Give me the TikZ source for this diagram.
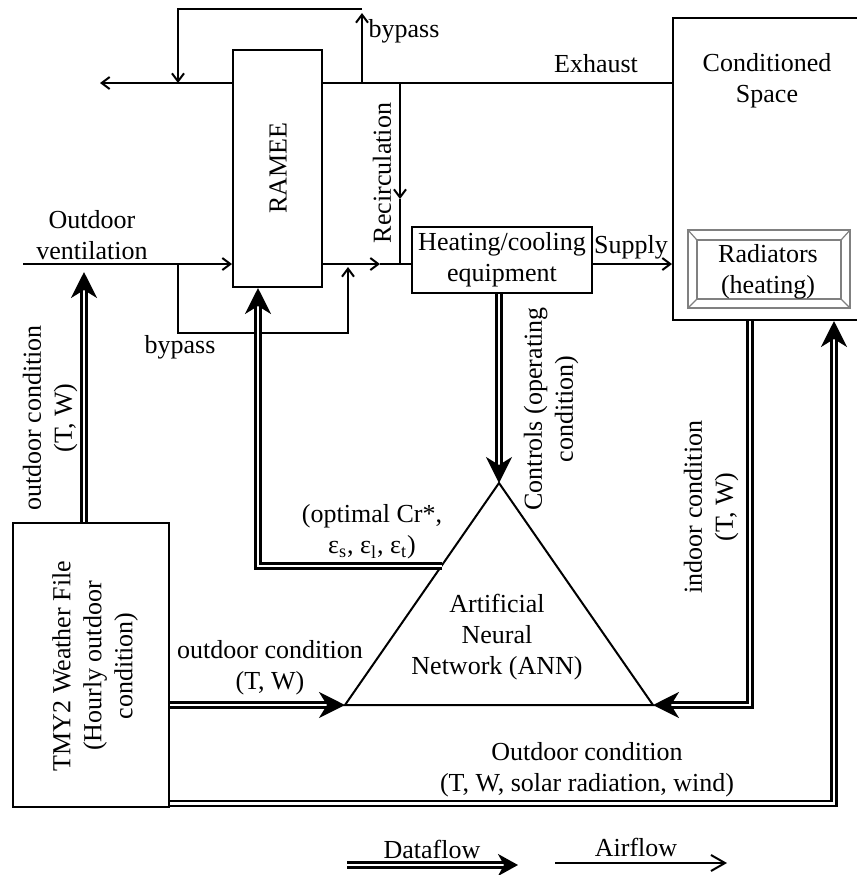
\documentclass[tikz,border=0pt]{standalone}
\usepackage{fontspec}
\setmainfont{Liberation Serif}
\usepackage{graphicx}
\usetikzlibrary{arrows.meta,calc}
\begin{document}
\begin{tikzpicture}[x=0.5pt,y=-0.5pt,
  every node/.style={font=\fontsize{13}{15.5}\selectfont, inner sep=0pt},
  box/.style={draw, line width=1pt, inner sep=0pt},
  air/.style={line width=1pt},
  atip/.style={-{Straight Barb[length=4pt,width=6pt]}},
  dline/.style={double, line width=1.1pt, double distance=1.4pt, line join=miter},
  dtip/.style={-{Stealth[length=13pt,width=13pt,inset=4pt]}},
  lbl/.style={align=center},
  vlbl/.style={align=center, rotate=90},
  bevel/.style={draw=gray, line width=0.6pt}
]
\useasboundingbox (0,0) rectangle (857,875);
\clip (0,0) rectangle (857,875);

% ---------- blocks ----------
\node[box, minimum width=44.5pt, minimum height=118.5pt] (ramee) at (277.5,168.5) {};
\node[rotate=90] (rameeT) at (278,168) {RAMEE};
\node[box, minimum width=90pt, minimum height=33pt, align=center] (heat) at (502,260) {Heating/cooling\\equipment};
\node[box, minimum width=98.5pt, minimum height=151pt] (cond) at (771.5,169) {};
\node[lbl] (condT) at (767,81) {Conditioned\\Space};
\node[bevel, minimum width=81pt, minimum height=39pt] (rad) at (769,269) {};
\node[bevel, minimum width=72pt, minimum height=29.5pt] (radin) at (769,269.5) {};
\draw[bevel] (rad.north west) -- (radin.north west);
\draw[bevel] (rad.north east) -- (radin.north east);
\draw[bevel] (rad.south west) -- (radin.south west);
\draw[bevel] (rad.south east) -- (radin.south east);
\node[lbl] (radT) at (768,272) {Radiators\\(heating)};
\node[box, minimum width=78pt, minimum height=142pt] (tmy) at (91,665) {};
\node[vlbl] (tmyT) at (95,666) {TMY2 Weather File\\(Hourly outdoor\\condition)};

% ANN triangle
\coordinate (apex) at (499,483);
\coordinate (annBL) at (345,705);
\coordinate (annBR) at (653,705);
\draw[line width=1pt, line join=miter] (apex) -- (annBR) -- (annBL) -- cycle;
\node[lbl] (annT) at (497,637) {Artificial\\Neural\\Network (ANN)};

% ---------- airflow ----------
\coordinate (exEnd) at (100,83);
\draw[air] (cond.west |- exEnd) -- (ramee.east |- exEnd);
\draw[air,atip] (ramee.west |- exEnd) -- (exEnd);
\node (exT) at (596,64) {Exhaust};

\coordinate (bpR) at (362,83);
\coordinate (bpL) at (178,83);
\coordinate (bpTop) at (362,9);
\coordinate (bpTip) at (362,13);
\draw[air,atip] (bpR) -- (bpTip);
\draw[air,atip] (bpTop) -| (bpL);
\node (bp1) at (404,31) {bypass};

\coordinate (recTop) at (400,83);
\coordinate (recMid) at (400,199);
\coordinate (recBot) at (400,264);
\draw[air,atip] (recTop) -- (recMid);
\draw[air] (recMid) -- (recBot);
\node[rotate=90] (recT) at (382,173) {Recirculation};

\coordinate (yAir) at (0,264);
\coordinate (ovS) at (23,264);
\draw[air,atip] (ovS) -- (ramee.west |- ovS);
\node[lbl] (ovT) at (92,235) {Outdoor\\ventilation};

\coordinate (lbA) at (178,264);
\coordinate (lbB) at (348,333);
\coordinate (lbEnd) at (348,267);
\draw[air,atip] (lbA) |- (lbB) -- (lbEnd);
\node (bp2) at (180,347) {bypass};

\coordinate (rhMid) at (380,264);
\draw[air,atip] (ramee.east |- yAir) -- (rhMid);
\draw[air] (rhMid) -- (heat.west |- yAir);

\draw[air,atip] (heat.east |- yAir) -- (cond.west |- yAir);
\node (supT) at (631,247) {Supply};

% ---------- dataflow ----------
\coordinate (odTip) at (84,272);
\draw[dline,dtip] (odTip |- tmy.north) -- (odTip);
\node[vlbl] (odT) at (50,418) {outdoor condition\\(T, W)};

\draw[dline,dtip] (tmy.east |- annBL) -- (annBL);
\node[lbl] (od2T) at (270,668) {outdoor condition\\(T, W)};

\draw[dline,dtip] (apex |- heat.south) -- (apex);
\node[vlbl] (ctlT) at (551,409) {Controls (operating\\condition)};

\coordinate (optR) at (442,566);
\coordinate (optC) at (258,566);
\draw[dline,dtip] (optR) -- (optC) -- (ramee.south -| optC);
\node[lbl] (optT) at (372,532) {(optimal Cr*,\\ε\textsubscript{s}, ε\textsubscript{l}, ε\textsubscript{t})};

\coordinate (inC) at (750,705);
\draw[dline,dtip] (cond.south -| inC) -- (inC) -- (annBR);
\node[vlbl] (inT) at (711,507) {indoor condition\\(T, W)};

\coordinate (busC) at (834,803.5);
\draw[dline,dtip] (tmy.east |- busC) -- (busC) -- (cond.south -| busC);
\node[lbl] (busT) at (587,770) {Outdoor condition\\(T, W, solar radiation, wind)};

% ---------- legend ----------
\coordinate (lgD1) at (347,865);
\coordinate (lgD2) at (518,865);
\draw[dline,-{Stealth[length=10pt,width=11pt,inset=3pt]}] (lgD1) -- (lgD2);
\node (lgDT) at (432,849) {Dataflow};
\coordinate (lgA1) at (555,863);
\coordinate (lgA2) at (727,863);
\draw[air,-{Straight Barb[length=7pt,width=8pt]}] (lgA1) -- (lgA2);
\node (lgAT) at (636,847) {Airflow};
\end{tikzpicture}
\end{document}
